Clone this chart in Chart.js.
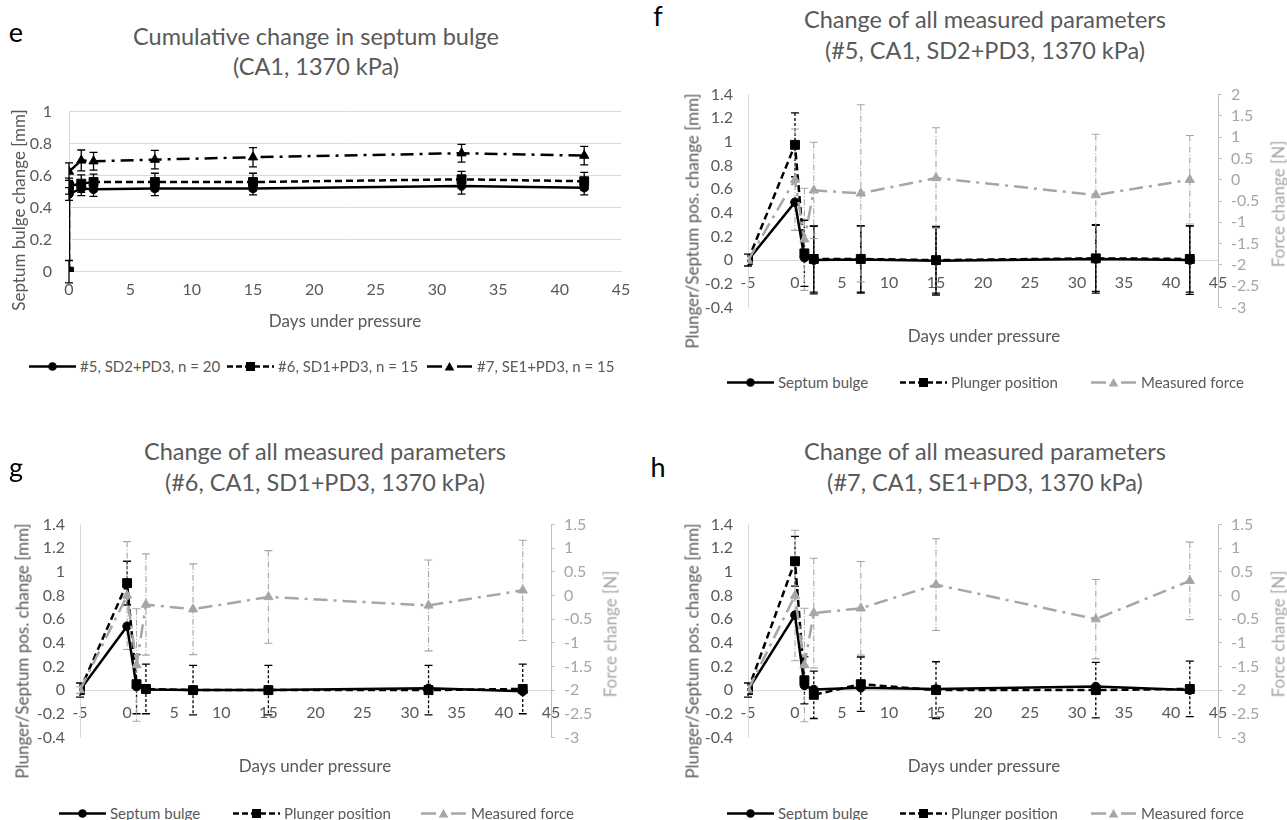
<!DOCTYPE html>
<html><head><meta charset="utf-8">
<script src="https://cdn.jsdelivr.net/npm/chart.js@4.4.1/dist/chart.umd.min.js"></script>
<style>
html,body{margin:0;padding:0;background:#fff;}
#root{position:relative;width:1287px;height:820px;overflow:hidden;font-family:Lato,'Open Sans',sans-serif;color:#595959;background:#fff;}
canvas{position:absolute;}
.t{position:absolute;white-space:nowrap;transform:translate(-50%,-50%);line-height:1;}
.rot{position:absolute;white-space:nowrap;transform:translate(-50%,-50%) rotate(-90deg);line-height:1;}
.title{font-size:23.5px;}
.letter{font-size:27px;color:#000;}
.axt{font-size:17px;}
.leg{position:absolute;display:flex;align-items:center;white-space:nowrap;font-size:15px;transform:translateY(-50%);line-height:1;}
.leg svg{display:block;margin-right:4px;}
</style></head>
<body><div id="root"></div>
<script>
// ---------------- DATA ----------------
// Panel e: cumulative septum bulge
const E_DAYS = [0, 0, 1, 2, 7, 15, 32, 42];
const E_DAYS7 = [0, 1, 2, 7, 15, 32, 42];
const E_S5 = [0, 0.485, 0.52, 0.515, 0.52, 0.52, 0.535, 0.525];
const E_S5_ERR = [0, 0.04, 0.045, 0.045, 0.045, 0.04, 0.05, 0.045];
const E_S6 = [0, 0.535, 0.55, 0.56, 0.56, 0.56, 0.577, 0.565];
const E_S6_ERR = [0.07, 0.05, 0.055, 0.05, 0.055, 0.055, 0.05, 0.055];
const E_S7 = [0.625, 0.695, 0.69, 0.70, 0.715, 0.74, 0.725];
const E_S7_ERR = [0.055, 0.065, 0.055, 0.058, 0.06, 0.055, 0.058];
const E_LABELS = ['#5, SD2+PD3, n = 20', '#6, SD1+PD3, n = 15', '#7, SE1+PD3, n = 15'];

// Panels f, g, h: all measured parameters
const DAYS = [-5, 0, 1, 2, 7, 15, 32, 42];
const F_SEPTUM = [0, 0.49, 0.02, 0.0, 0.005, -0.005, 0.01, 0.0];
const F_SEPTUM_ERR = [0, 0, 0, 0.285, 0.285, 0.29, 0.29, 0.29];
const F_PLUNGER = [0, 0.975, 0.057, 0.01, 0.01, 0.0, 0.015, 0.01];
const F_PLUNGER_ERR = [0.05, 0.27, 0.28, 0.28, 0.28, 0.28, 0.28, 0.28];
const F_FORCE = [-1.9, 0.0, -1.4, -0.25, -0.32, 0.04, -0.36, 0.0];
const F_FORCE_ERR = [0, 1.19, 1.2, 1.13, 2.08, 1.18, 1.43, 1.04];

const G_SEPTUM = [0, 0.54, 0.03, 0.005, 0.0, 0.0, 0.015, -0.01];
const G_SEPTUM_ERR = [0, 0, 0, 0, 0, 0, 0, 0];
const G_PLUNGER = [0, 0.905, 0.05, 0.01, 0.0, 0.0, 0.0, 0.01];
const G_PLUNGER_ERR = [0.06, 0.185, 0.25, 0.21, 0.21, 0.21, 0.21, 0.21];
const G_FORCE = [-2.0, 0.0, -1.47, -0.19, -0.29, -0.03, -0.21, 0.11];
const G_FORCE_ERR = [0.07, 1.14, 1.19, 1.07, 0.96, 0.98, 0.96, 1.06];

const H_SEPTUM = [0, 0.635, 0.04, 0.005, 0.02, 0.01, 0.03, 0.0];
const H_SEPTUM_ERR = [0, 0, 0, 0, 0, 0, 0, 0];
const H_PLUNGER = [0, 1.09, 0.083, -0.04, 0.05, 0.0, 0.0, 0.01];
const H_PLUNGER_ERR = [0.06, 0.21, 0.2, 0.2, 0.23, 0.24, 0.235, 0.235];
const H_FORCE = [-2.0, 0.0, -1.47, -0.37, -0.27, 0.23, -0.5, 0.31];
const H_FORCE_ERR = [0, 1.38, 1.2, 1.16, 0.99, 0.97, 0.84, 0.82];

const SERIES_LABELS = ['Septum bulge', 'Plunger position', 'Measured force'];
const X_TITLE = 'Days under pressure';
const Y_TITLE_E = 'Septum  bulge change [mm]';
const Y_TITLE_L = 'Plunger/Septum pos. change [mm]';
const Y_TITLE_R = 'Force change [N]';
const TITLE_E = ['Cumulative change in septum bulge', '(CA1, 1370 kPa)'];
const TITLE_F = ['Change of all measured parameters', '(#5, CA1, SD2+PD3, 1370 kPa)'];
const TITLE_G = ['Change of all measured parameters', '(#6, CA1, SD1+PD3, 1370 kPa)'];
const TITLE_H = ['Change of all measured parameters', '(#7, CA1, SE1+PD3, 1370 kPa)'];

// ---------------- STYLE ----------------
const TXT = '#595959', GRAYTXT = '#a6a6a6', FORCE = '#a6a6a6', AXIS = '#d9d9d9';
const TICKFONT = {family: 'Lato', size: 16};
Chart.defaults.font.family = 'Lato';
const fmt = v => (Math.abs(v) < 1e-9 ? '0' : String(parseFloat(v.toFixed(2))));

const errorBars = {
  id: 'errorBars',
  beforeDatasetsDraw(chart) {
    const ctx = chart.ctx;
    chart.data.datasets.forEach((ds, i) => {
      if (!ds.errors) return;
      const meta = chart.getDatasetMeta(i);
      const ys = chart.scales[meta.yAxisID];
      ctx.save();
      ctx.strokeStyle = ds.errColor;
      ctx.lineWidth = ds.errWidth || 1.3;
      meta.data.forEach((pt, j) => {
        const e = ds.errors[j];
        if (!e) return;
        const v = ds.data[j].y;
        const x = pt.x;
        const y1 = ys.getPixelForValue(v + e), y2 = ys.getPixelForValue(v - e);
        ctx.setLineDash(ds.errDash || []);
        ctx.beginPath();
        ctx.moveTo(x, y1); ctx.lineTo(x, y2);
        ctx.stroke();
        ctx.setLineDash([]);
        ctx.beginPath();
        ctx.moveTo(x - 4, y1); ctx.lineTo(x + 4, y1);
        ctx.moveTo(x - 4, y2); ctx.lineTo(x + 4, y2);
        ctx.stroke();
      });
      ctx.restore();
    });
  }
};

function pts(xs, ys) { return xs.map((x, i) => ({x: x, y: ys[i]})); }

function lineDS(o) {
  return Object.assign({
    showLine: true, borderWidth: 2.5, pointBorderWidth: 1,
    borderColor: '#000', backgroundColor: '#000', pointBackgroundColor: '#000', pointBorderColor: '#000',
    errColor: '#000', errWidth: 1.3, yAxisID: 'y', tension: 0
  }, o);
}

const root = document.getElementById('root');
function addCanvas(r) {
  const c = document.createElement('canvas');
  c.width = r.width; c.height = r.height;
  c.style.left = r.left + 'px'; c.style.top = r.top + 'px';
  c.style.width = r.width + 'px'; c.style.height = r.height + 'px';
  root.appendChild(c);
  return c;
}
function addText(cls, text, x, y, extra) {
  const d = document.createElement('div');
  d.className = cls; d.textContent = text;
  d.style.left = x + 'px'; d.style.top = y + 'px';
  if (extra) Object.assign(d.style, extra);
  root.appendChild(d);
  return d;
}
function sampleSVG(kind, color, dash) {
  const w = 47, h = 14, c = 7;
  let s = '<svg width="' + w + '" height="' + h + '">';
  if (kind === 'tri') {
    s += '<line x1="1" y1="' + c + '" x2="16" y2="' + c + '" stroke="' + color + '" stroke-width="2.5"/>';
    s += '<line x1="31" y1="' + c + '" x2="46" y2="' + c + '" stroke="' + color + '" stroke-width="2.5"/>';
    s += '<polygon points="23.5,2.5 28.3,11 18.7,11" fill="' + color + '"/>';
  } else {
    s += '<line x1="0" y1="' + c + '" x2="' + w + '" y2="' + c + '" stroke="' + color + '" stroke-width="2.5"' + (dash ? ' stroke-dasharray="' + dash + '"' : '') + '/>';
    if (kind === 'circle') s += '<circle cx="23.5" cy="' + c + '" r="4.3" fill="' + color + '"/>';
    if (kind === 'rect') s += '<rect x="19" y="2.5" width="9" height="9" fill="' + color + '"/>';
  }
  return s + '</svg>';
}
function addLegendItem(x, y, kind, color, dash, label) {
  const d = document.createElement('div');
  d.className = 'leg';
  d.style.left = x + 'px'; d.style.top = y + 'px';
  d.innerHTML = sampleSVG(kind, color, dash) + '<span></span>';
  d.lastChild.textContent = label;
  root.appendChild(d);
}

// ---------------- PANEL e ----------------
(function () {
  const rect = {left: 0, top: 85, width: 640, height: 245};
  const area = {l: 69, r: 621, t: 103.5, b: 271.7};
  const cv = addCanvas(rect);
  new Chart(cv, {
    type: 'scatter',
    data: {datasets: [
      lineDS({label: E_LABELS[0], data: pts(E_DAYS, E_S5), errors: E_S5_ERR, pointStyle: 'circle', pointRadius: 4.3, order: 3}),
      lineDS({label: E_LABELS[1], data: pts(E_DAYS, E_S6), errors: E_S6_ERR, pointStyle: 'rect', pointRadius: 6.3, borderDash: [7, 4], order: 2}),
      lineDS({label: E_LABELS[2], data: pts(E_DAYS7, E_S7), errors: E_S7_ERR, pointStyle: 'triangle', pointRadius: 5.3, borderDash: [13, 6, 3, 6], order: 1})
    ]},
    plugins: [errorBars],
    options: {
      responsive: false, animation: false, events: [],
      layout: {padding: {top: area.t - rect.top, right: rect.left + rect.width - area.r, left: 0, bottom: 0}},
      plugins: {legend: {display: false}, tooltip: {enabled: false}},
      scales: {
        x: {type: 'linear', min: 0, max: 45,
            ticks: {stepSize: 5, autoSkip: false, color: TXT, font: TICKFONT, padding: 9, callback: fmt},
            grid: {display: false, drawTicks: false},
            border: {display: true, color: AXIS, width: 1},
            afterFit: s => { s.height = rect.top + rect.height - area.b; }},
        y: {type: 'linear', min: 0, max: 1,
            ticks: {stepSize: 0.2, autoSkip: false, color: TXT, font: TICKFONT, padding: 17, callback: fmt},
            grid: {display: true, color: AXIS, drawTicks: false, lineWidth: 1},
            border: {display: true, color: AXIS, width: 1},
            afterFit: s => { s.width = area.l - rect.left; }}
      }
    }
  });
  addText('t letter', 'e', 16, 31);
  addText('t title', TITLE_E[0], 316, 37);
  addText('t title', TITLE_E[1], 316, 67);
  addText('t axt', X_TITLE, 345, 320);
  addText('rot axt', Y_TITLE_E, 18, 210);
  addLegendItem(29, 366, 'circle', '#000', null, E_LABELS[0]);
  addLegendItem(227, 366, 'rect', '#000', '6 3', E_LABELS[1]);
  addLegendItem(426, 366, 'tri', '#000', null, E_LABELS[2]);
})();

// ---------------- PANELS f, g, h ----------------
function makeDual(rect, area, rMax, sept, septErr, plung, plungErr, force, forceErr) {
  const cv = addCanvas(rect);
  new Chart(cv, {
    type: 'scatter',
    data: {datasets: [
      lineDS({label: SERIES_LABELS[0], data: pts(DAYS, sept), errors: septErr, pointStyle: 'circle', pointRadius: 4.3, order: 3}),
      lineDS({label: SERIES_LABELS[1], data: pts(DAYS, plung), errors: plungErr, errDash: [3, 2], pointStyle: 'rect', pointRadius: 6.3, borderDash: [7, 4], order: 2}),
      lineDS({label: SERIES_LABELS[2], data: pts(DAYS, force), errors: forceErr, errColor: FORCE, errWidth: 1.1, errDash: [6, 2, 1, 2],
              borderColor: FORCE, backgroundColor: FORCE, pointBackgroundColor: FORCE, pointBorderColor: FORCE,
              pointStyle: 'triangle', pointRadius: 5.3, borderDash: [14, 6, 3, 6], yAxisID: 'y2', order: 1})
    ]},
    plugins: [errorBars],
    options: {
      responsive: false, animation: false, events: [],
      layout: {padding: {top: area.t - rect.top, bottom: rect.top + rect.height - area.b, left: 0, right: 0}},
      plugins: {legend: {display: false}, tooltip: {enabled: false}},
      scales: {
        x: {type: 'linear', min: -5, max: 45, position: {y: 0},
            ticks: {stepSize: 5, autoSkip: false, color: TXT, font: TICKFONT, padding: 13, callback: fmt},
            grid: {display: false, drawTicks: false},
            border: {display: true, color: AXIS, width: 1},
            afterFit: s => { s.height = 0; }},
        y: {type: 'linear', position: 'left', min: -0.4, max: 1.4,
            ticks: {stepSize: 0.2, autoSkip: false, color: TXT, font: TICKFONT, padding: 15, callback: fmt},
            grid: {display: false, drawTicks: false},
            border: {display: true, color: AXIS, width: 1},
            afterFit: s => { s.width = area.l - rect.left; }},
        y2: {type: 'linear', position: 'right', min: -3, max: rMax,
            ticks: {stepSize: 0.5, autoSkip: false, color: GRAYTXT, font: TICKFONT, padding: 9, callback: fmt},
            grid: {display: true, drawOnChartArea: false, drawTicks: true, tickLength: 4, color: '#bfbfbf'},
            border: {display: true, color: '#bfbfbf', width: 1},
            afterFit: s => { s.width = rect.left + rect.width - area.r; }}
      }
    }
  });
}
function dualTexts(letterPos, titleX, titleY, title, xTitleX, xTitleY, yLX, yRX, yRY, legY, legXs) {
  addText('t letter', letterPos[2], letterPos[0], letterPos[1]);
  addText('t title', title[0], titleX, titleY);
  addText('t title', title[1], titleX, titleY + 31);
  addText('t axt', X_TITLE, xTitleX, xTitleY);
  addText('rot axt', Y_TITLE_L, yLX, xTitleY - 114);
  addText('rot axt', Y_TITLE_R, yRX, yRY, {color: GRAYTXT});
  addLegendItem(legXs[0], legY, 'circle', '#000', null, SERIES_LABELS[0]);
  addLegendItem(legXs[1], legY, 'rect', '#000', '6 3', SERIES_LABELS[1]);
  addLegendItem(legXs[2], legY, 'tri', FORCE, null, SERIES_LABELS[2]);
}

makeDual({left: 660, top: 70, width: 627, height: 262}, {l: 748, r: 1218, t: 88.3, b: 318}, 2,
  F_SEPTUM, F_SEPTUM_ERR, F_PLUNGER, F_PLUNGER_ERR, F_FORCE, F_FORCE_ERR);
dualTexts([658, 15, 'f'], 985, 20, TITLE_F, 984, 335, 692, 1278, 204, 382, [727, 900, 1090]);

makeDual({left: 0, top: 500, width: 640, height: 262}, {l: 80, r: 551, t: 518.3, b: 750}, 1.5,
  G_SEPTUM, G_SEPTUM_ERR, G_PLUNGER, G_PLUNGER_ERR, G_FORCE, G_FORCE_ERR);
dualTexts([16, 466, 'g'], 325, 452, TITLE_G, 315, 765, 22, 610, 634, 813, [59, 233, 420]);

makeDual({left: 660, top: 500, width: 627, height: 262}, {l: 748, r: 1218, t: 518.3, b: 750}, 1.5,
  H_SEPTUM, H_SEPTUM_ERR, H_PLUNGER, H_PLUNGER_ERR, H_FORCE, H_FORCE_ERR);
dualTexts([658, 466, 'h'], 985, 452, TITLE_H, 984, 765, 692, 1278, 634, 813, [727, 900, 1090]);
</script>
</body></html>
